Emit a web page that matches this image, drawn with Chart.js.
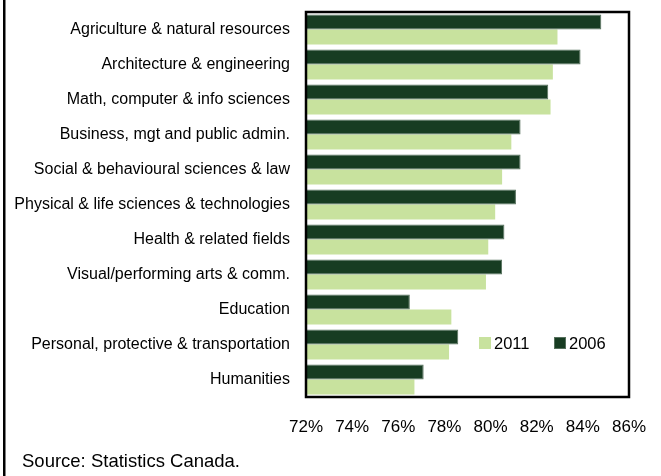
<!DOCTYPE html>
<html>
<head>
<meta charset="utf-8">
<script src="https://cdn.jsdelivr.net/npm/chart.js@4/dist/chart.umd.min.js"></script>
<style>
  html, body { margin: 0; padding: 0; background: #ffffff; }
  #wrap { width: 661px; height: 476px; position: relative; }
</style>
</head>
<body>
<div id="wrap"><canvas id="chart" width="661" height="476"></canvas></div>
<script>
// Fields of study, top to bottom
const categories = [
  'Agriculture & natural resources',
  'Architecture & engineering',
  'Math, computer & info sciences',
  'Business, mgt and public admin.',
  'Social & behavioural sciences & law',
  'Physical & life sciences & technologies',
  'Health & related fields',
  'Visual/performing arts & comm.',
  'Education',
  'Personal, protective & transportation',
  'Humanities'
];

// Percentages by year
const values2006 = [84.8, 83.9, 82.5, 81.3, 81.3, 81.1, 80.6, 80.5, 76.5, 78.6, 77.1];
const values2011 = [82.9, 82.7, 82.6, 80.9, 80.5, 80.2, 79.9, 79.8, 78.3, 78.2, 76.7];

// Axis range and ticks
const xMin = 72;
const xMax = 86;
const xStep = 2;

const sourceNote = 'Source: Statistics Canada.';

const DARK = '#173c22';
const LIGHT = '#c8e29e';
const FONT = "'Liberation Sans', Arial, sans-serif";

// Frame around the plot, left rule of the panel, source note and inline legend
const decorations = {
  id: 'decorations',
  afterDraw(chart) {
    const ctx = chart.ctx;
    const a = chart.chartArea;
    ctx.save();
    // panel rule on the left edge
    ctx.fillStyle = '#000';
    ctx.fillRect(3, 0, 2.5, chart.height);
    // plot frame
    ctx.strokeStyle = '#000';
    ctx.lineWidth = 2.5;
    ctx.strokeRect(a.left, a.top, a.right - a.left, a.bottom - a.top);
    // source note
    ctx.fillStyle = '#000';
    ctx.font = '18.5px ' + FONT;
    ctx.textBaseline = 'middle';
    ctx.textAlign = 'left';
    ctx.fillText(sourceNote, 22, 462);
    // legend inside the plot, later year first
    const items = chart.data.datasets.slice().reverse();
    const xs = [479, 554];
    ctx.font = '16.5px ' + FONT;
    items.forEach((ds, i) => {
      const x = xs[i];
      const y = 343;
      ctx.fillStyle = ds.backgroundColor;
      ctx.fillRect(x, y - 6, 12, 12);
      if (ds.borderWidth) {
        ctx.strokeStyle = ds.borderColor;
        ctx.lineWidth = 1;
        ctx.strokeRect(x + 0.5, y - 5.5, 11, 11);
      }
      ctx.fillStyle = '#000';
      ctx.fillText(ds.label, x + 15, y + 1);
    });
    ctx.restore();
  }
};

new Chart(document.getElementById('chart'), {
  type: 'bar',
  data: {
    labels: categories,
    datasets: [
      {
        label: '2006',
        data: values2006,
        backgroundColor: DARK,
        borderColor: '#56705c',
        borderWidth: 1,
        categoryPercentage: 0.86,
        barPercentage: 1.0
      },
      {
        label: '2011',
        data: values2011,
        backgroundColor: LIGHT,
        borderWidth: 0,
        categoryPercentage: 0.86,
        barPercentage: 1.0
      }
    ]
  },
  options: {
    indexAxis: 'y',
    responsive: false,
    animation: false,
    layout: { padding: { top: 12, right: 32, left: 0, bottom: 0 } },
    plugins: {
      legend: { display: false },
      tooltip: { enabled: false }
    },
    scales: {
      x: {
        min: xMin,
        max: xMax,
        grid: { display: false, drawTicks: false },
        border: { display: false },
        ticks: {
          stepSize: xStep,
          padding: 20,
          color: '#000',
          font: { family: FONT, size: 17 },
          callback: v => v + '%'
        },
        afterFit(scale) {
          scale.height = 79;
          scale.paddingLeft = 0;
          scale.paddingRight = 0;
        }
      },
      y: {
        grid: { display: false, drawTicks: false },
        border: { display: false },
        ticks: {
          padding: 16,
          color: '#000',
          font: { family: FONT, size: 16 },
          autoSkip: false
        },
        afterFit(scale) {
          scale.width = 306;
          scale.paddingTop = 0;
          scale.paddingBottom = 0;
        }
      }
    }
  },
  plugins: [decorations]
});
</script>
</body>
</html>
